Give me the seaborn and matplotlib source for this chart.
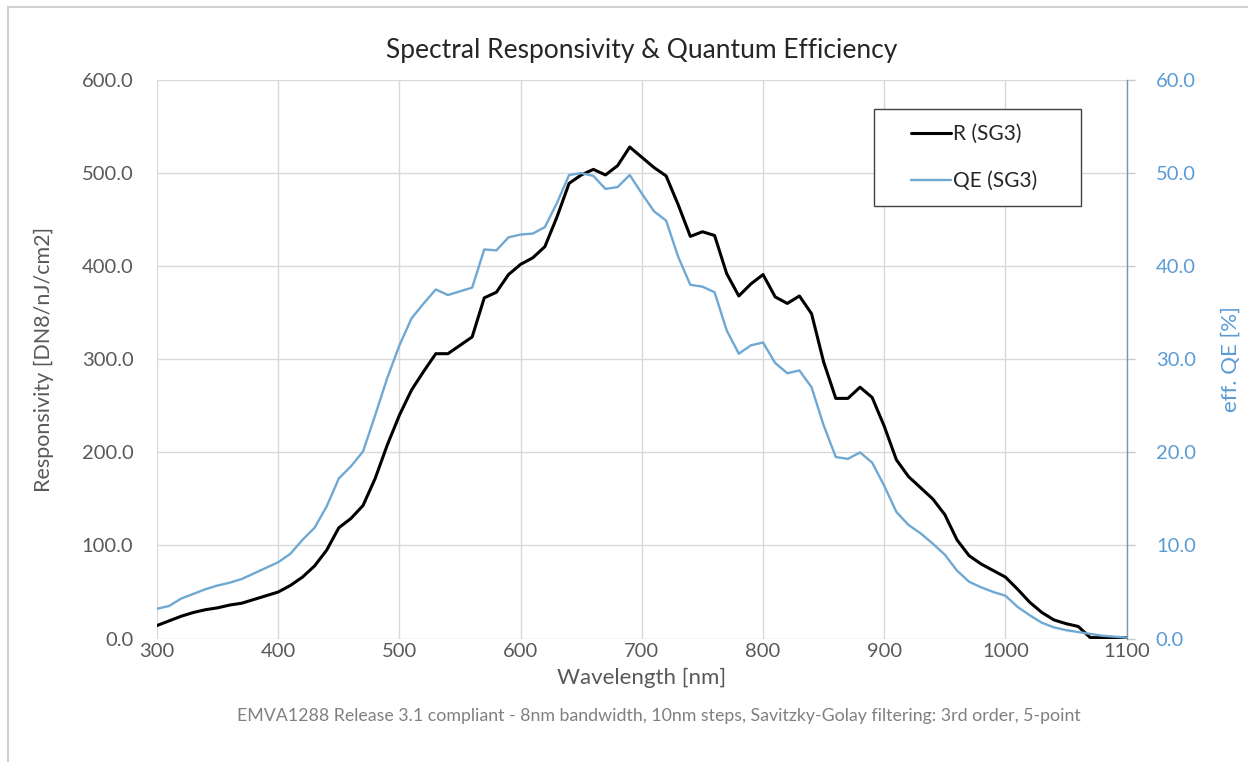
import matplotlib
matplotlib.use('Agg')
import matplotlib.pyplot as plt
import seaborn as sns
import pandas as pd
from matplotlib.lines import Line2D
from matplotlib.patches import Rectangle

# wavelength grid [nm], 10nm steps
wavelength = [300, 310, 320, 330, 340, 350, 360, 370, 380, 390,
              400, 410, 420, 430, 440, 450, 460, 470, 480, 490,
              500, 510, 520, 530, 540, 550, 560, 570, 580, 590,
              600, 610, 620, 630, 640, 650, 660, 670, 680, 690,
              700, 710, 720, 730, 740, 750, 760, 770, 780, 790,
              800, 810, 820, 830, 840, 850, 860, 870, 880, 890,
              900, 910, 920, 930, 940, 950, 960, 970, 980, 990,
              1000, 1010, 1020, 1030, 1040, 1050, 1060, 1070, 1080, 1090,
              1100]

# responsivity R (SG3) [DN8/nJ/cm2]
responsivity = [14, 19, 24, 28, 31, 33, 36, 38, 42, 46,
                50, 57, 66, 78, 95, 119, 129, 143, 172, 208,
                240, 267, 287, 306, 306, 315, 324, 366, 372, 391,
                402, 409, 421, 453, 489, 498, 504, 498, 508, 528,
                517, 506, 497, 466, 432, 437, 433, 392, 368, 381,
                391, 367, 360, 368, 349, 297, 258, 258, 270, 259,
                228, 192, 174, 162, 150, 133, 106, 89, 80, 73,
                66, 53, 39, 28, 20, 16, 13, 1, 1, 1,
                1]

# effective quantum efficiency QE (SG3) [%]
qe = [3.2, 3.5, 4.3, 4.8, 5.3, 5.7, 6.0, 6.4, 7.0, 7.6,
      8.2, 9.1, 10.6, 11.9, 14.2, 17.2, 18.5, 20.1, 24.0, 28.0,
      31.5, 34.4, 36.0, 37.5, 36.9, 37.3, 37.7, 41.8, 41.7, 43.1,
      43.4, 43.5, 44.2, 46.8, 49.8, 50.0, 49.7, 48.3, 48.5, 49.8,
      47.8, 45.9, 44.9, 41.0, 38.0, 37.8, 37.2, 33.1, 30.6, 31.5,
      31.8, 29.6, 28.5, 28.8, 27.0, 22.9, 19.5, 19.3, 20.0, 18.9,
      16.4, 13.6, 12.2, 11.3, 10.2, 9.0, 7.3, 6.1, 5.5, 5.0,
      4.6, 3.4, 2.5, 1.7, 1.2, 0.9, 0.7, 0.5, 0.3, 0.2,
      0.1]

x_ticks = [300, 400, 500, 600, 700, 800, 900, 1000, 1100]
r_ticks = [0, 100, 200, 300, 400, 500, 600]
qe_ticks = [0, 10, 20, 30, 40, 50, 60]

df = pd.DataFrame({'wavelength': wavelength, 'R': responsivity, 'QE': qe})

sns.set_theme(style='white')
plt.rcParams['font.family'] = ['Lato', 'DejaVu Sans']

grey = '#595959'
blue_line = '#6fa8d2'
blue_text = '#5b9bd5'

fig = plt.figure(figsize=(12.48, 7.62), dpi=100)
ax = fig.add_axes([0.1258, 0.162, 0.777, 0.733])

sns.lineplot(data=df, x='wavelength', y='R', ax=ax, color='black', linewidth=2.2)
ax.set_xlim(300, 1100)
ax.set_ylim(0, 600)
ax.set_xticks(x_ticks)
ax.set_yticks(r_ticks)
ax.set_yticklabels(['{:.1f}'.format(v) for v in r_ticks])
ax.grid(True, color='#d9d9d9', linewidth=1)
for s in ax.spines.values():
    s.set_visible(False)
ax.tick_params(axis='both', length=0, labelsize=14.5, labelcolor=grey)
ax.tick_params(axis='y', pad=17)
ax.tick_params(axis='x', pad=3)
ax.set_xlabel('Wavelength [nm]', fontsize=16, color=grey, labelpad=6)
ax.set_ylabel('Responsivity [DN8/nJ/cm2]', fontsize=15.5, color=grey, labelpad=20)

ax2 = ax.twinx()
sns.lineplot(data=df, x='wavelength', y='QE', ax=ax2, color=blue_line, linewidth=1.7)
ax2.set_ylim(0, 60)
ax2.set_yticks(qe_ticks)
ax2.set_yticklabels(['{:.1f}'.format(v) for v in qe_ticks])
ax2.grid(False)
for s in ax2.spines.values():
    s.set_visible(False)
ax2.spines['right'].set_visible(True)
ax2.spines['right'].set_color('#8093ad')
ax2.spines['right'].set_linewidth(1)
ax2.tick_params(axis='y', length=6, width=1, color='#c8c8c8', direction='out',
                labelsize=14.5, labelcolor=blue_text, pad=15)
ax2.set_ylabel('eff. QE [%]', fontsize=16, color=blue_text, labelpad=18)

# legend box
ax2.add_patch(Rectangle((0.739, 0.774), 0.214, 0.174, transform=ax2.transAxes,
                        facecolor='white', edgecolor='#404040', linewidth=1, zorder=5))
handles = [Line2D([0], [0], color='black', linewidth=2.2),
           Line2D([0], [0], color=blue_line, linewidth=1.7)]
leg = ax2.legend(handles, ['R (SG3)', 'QE (SG3)'], loc='center',
                 bbox_to_anchor=(0.843, 0.861), frameon=False, fontsize=15,
                 handlelength=1.9, handletextpad=0.1, labelspacing=1.3)
leg.set_zorder(6)
for t in leg.get_texts():
    t.set_color('#262626')

ax.set_title('Spectral Responsivity & Quantum Efficiency', fontsize=19,
             color='#262626', pad=16)

fig.text(0.528, 0.06, 'EMVA1288 Release 3.1 compliant - 8nm bandwidth, 10nm steps, '
         'Savitzky-Golay filtering: 3rd order, 5-point',
         ha='center', va='center', fontsize=12.8, color='#808080')

# outer chart frame
fig.patches.append(Rectangle((0.0065, -0.02), 1.05, 1.011, transform=fig.transFigure,
                             fill=False, edgecolor='#d0d0d0', linewidth=1.5))

fig.savefig('out.png', dpi=100)
